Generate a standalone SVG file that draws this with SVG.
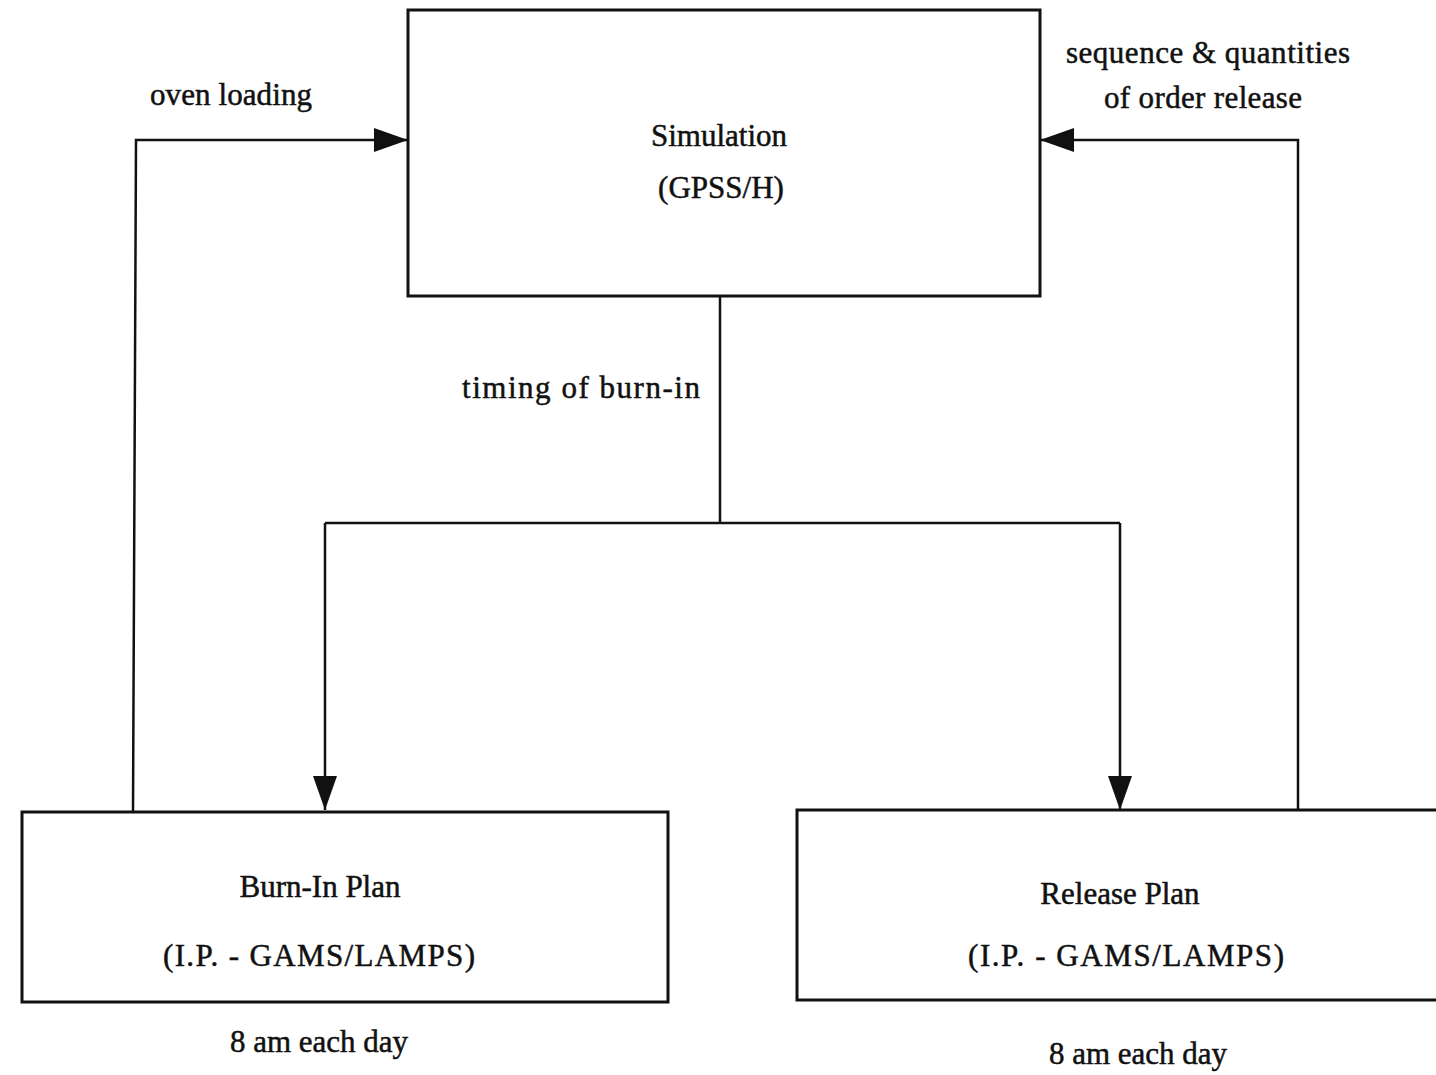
<svg xmlns="http://www.w3.org/2000/svg" width="1436" height="1075" viewBox="0 0 1436 1075">
<style>
.box{fill:none;stroke:#111;stroke-width:3}
.ln{fill:none;stroke:#111;stroke-width:2.5}
.t{font-family:"Liberation Serif","Times New Roman",serif;font-size:31px;fill:#111;stroke:#111;stroke-width:0.5;text-anchor:middle}
.l{font-family:"Liberation Serif","Times New Roman",serif;font-size:31px;fill:#111;stroke:#111;stroke-width:0.5}
</style>
<defs>
<marker id="ah" viewBox="0 0 34 24" refX="34" refY="12" markerWidth="34" markerHeight="24" markerUnits="userSpaceOnUse" orient="auto">
<path d="M0,0 L34,12 L0,24 Z" fill="#111"/>
</marker>
</defs>
<rect width="1436" height="1075" fill="#fff"/>
<g id="connectors">
<polyline class="ln" points="720,296 720,523"/>
<polyline class="ln" points="325,523 1120,523"/>
<polyline class="ln" points="325,523 325,810" marker-end="url(#ah)"/>
<polyline class="ln" points="1120,523 1120,810" marker-end="url(#ah)"/>
<polyline class="ln" points="133,812 136,140 408,140" marker-end="url(#ah)"/>
<polyline class="ln" points="1298,810 1298,140 1040,140" marker-end="url(#ah)"/>
<text class="l" x="150" y="105" textLength="162" lengthAdjust="spacing">oven loading</text>
<text class="l" x="1066" y="63" font-size="32" textLength="284" lengthAdjust="spacing">sequence &amp; quantities</text>
<text class="l" x="1104" y="108" font-size="32" textLength="198" lengthAdjust="spacing">of order release</text>
<text class="l" x="462" y="398" textLength="238" lengthAdjust="spacing">timing of burn-in</text>
</g>
<g id="simulation">
<rect class="box" x="408" y="10" width="632" height="286"/>
<text class="t" x="719" y="146">Simulation</text>
<text class="t" x="721" y="198">(GPSS/H)</text>
</g>
<g id="burn-in-plan">
<rect class="box" x="22" y="812" width="646" height="190"/>
<text class="t" x="320" y="897" font-size="32">Burn-In Plan</text>
<text class="t" x="319" y="966" font-size="33" textLength="312" lengthAdjust="spacing">(I.P. - GAMS/LAMPS)</text>
<text class="t" x="319" y="1052" font-size="32">8 am each day</text>
</g>
<g id="release-plan">
<rect class="box" x="797" y="810" width="660" height="190"/>
<text class="t" x="1120" y="904" font-size="32">Release Plan</text>
<text class="t" x="1126" y="966" font-size="33" textLength="316" lengthAdjust="spacing">(I.P. - GAMS/LAMPS)</text>
<text class="t" x="1138" y="1064" font-size="32">8 am each day</text>
</g>
</svg>
